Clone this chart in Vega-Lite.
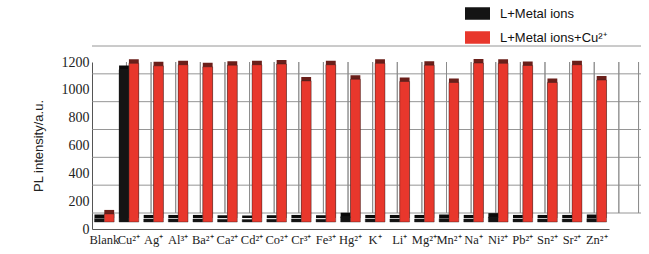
{
  "$schema": "https://vega.github.io/schema/vega-lite/v6.json",
  "autosize": "none",
  "padding": {"left": 92, "top": 62, "right": 40, "bottom": 25},
  "width": 517,
  "height": 167,
  "background": "white",
  "config": {
    "view": {"stroke": null},
    "axis": {"ticks": false, "grid": false, "domainColor": "#555", "labelColor": "#222"},
    "axisX": {"labelAngle": 0, "labelPadding": 4, "labelFont": "Liberation Serif", "labelFontSize": 12.5, "labelOverlap": false, "labelBound": false},
    "axisY": {"labelPadding": 3, "labelFont": "Liberation Serif", "labelFontSize": 14, "titleFont": "Liberation Sans", "titleFontSize": 13, "titleFontWeight": "normal", "titleColor": "#222", "titlePadding": 16}
  },
  "datasets": {
    "grid": [{"g": 0}, {"g": 200}, {"g": 400}, {"g": 600}, {"g": 800}, {"g": 1000}, {"g": 1200}],
    "pl": [
    {"ion": "Blank", "series": "L+Metal ions", "value": 25},
    {"ion": "Blank", "series": "L+Metal ions+Cu²⁺", "value": 58},
    {"ion": "Cu²⁺", "series": "L+Metal ions", "value": 1095},
    {"ion": "Cu²⁺", "series": "L+Metal ions+Cu²⁺", "value": 1140},
    {"ion": "Ag⁺", "series": "L+Metal ions", "value": 22},
    {"ion": "Ag⁺", "series": "L+Metal ions+Cu²⁺", "value": 1122},
    {"ion": "Al³⁺", "series": "L+Metal ions", "value": 22},
    {"ion": "Al³⁺", "series": "L+Metal ions+Cu²⁺", "value": 1130},
    {"ion": "Ba²⁺", "series": "L+Metal ions", "value": 22},
    {"ion": "Ba²⁺", "series": "L+Metal ions+Cu²⁺", "value": 1115},
    {"ion": "Ca²⁺", "series": "L+Metal ions", "value": 20},
    {"ion": "Ca²⁺", "series": "L+Metal ions+Cu²⁺", "value": 1127},
    {"ion": "Cd²⁺", "series": "L+Metal ions", "value": 18},
    {"ion": "Cd²⁺", "series": "L+Metal ions+Cu²⁺", "value": 1130},
    {"ion": "Co²⁺", "series": "L+Metal ions", "value": 20},
    {"ion": "Co²⁺", "series": "L+Metal ions+Cu²⁺", "value": 1135},
    {"ion": "Cr³⁺", "series": "L+Metal ions", "value": 22},
    {"ion": "Cr³⁺", "series": "L+Metal ions+Cu²⁺", "value": 1014},
    {"ion": "Fe³⁺", "series": "L+Metal ions", "value": 20},
    {"ion": "Fe³⁺", "series": "L+Metal ions+Cu²⁺", "value": 1130},
    {"ion": "Hg²⁺", "series": "L+Metal ions", "value": 38},
    {"ion": "Hg²⁺", "series": "L+Metal ions+Cu²⁺", "value": 1026},
    {"ion": "K⁺", "series": "L+Metal ions", "value": 22},
    {"ion": "K⁺", "series": "L+Metal ions+Cu²⁺", "value": 1140},
    {"ion": "Li⁺", "series": "L+Metal ions", "value": 22},
    {"ion": "Li⁺", "series": "L+Metal ions+Cu²⁺", "value": 1010},
    {"ion": "Mg²⁺", "series": "L+Metal ions", "value": 22},
    {"ion": "Mg²⁺", "series": "L+Metal ions+Cu²⁺", "value": 1127},
    {"ion": "Mn²⁺", "series": "L+Metal ions", "value": 25},
    {"ion": "Mn²⁺", "series": "L+Metal ions+Cu²⁺", "value": 1003},
    {"ion": "Na⁺", "series": "L+Metal ions", "value": 22},
    {"ion": "Na⁺", "series": "L+Metal ions+Cu²⁺", "value": 1142},
    {"ion": "Ni²⁺", "series": "L+Metal ions", "value": 35},
    {"ion": "Ni²⁺", "series": "L+Metal ions+Cu²⁺", "value": 1140},
    {"ion": "Pb²⁺", "series": "L+Metal ions", "value": 22},
    {"ion": "Pb²⁺", "series": "L+Metal ions+Cu²⁺", "value": 1125},
    {"ion": "Sn²⁺", "series": "L+Metal ions", "value": 22},
    {"ion": "Sn²⁺", "series": "L+Metal ions+Cu²⁺", "value": 1003},
    {"ion": "Sr²⁺", "series": "L+Metal ions", "value": 22},
    {"ion": "Sr²⁺", "series": "L+Metal ions+Cu²⁺", "value": 1130},
    {"ion": "Zn²⁺", "series": "L+Metal ions", "value": 25},
    {"ion": "Zn²⁺", "series": "L+Metal ions+Cu²⁺", "value": 1020}
  ]},
  "data": {"name": "pl"},
  "layer": [
    {
      "data": {"name": "grid"},
      "mark": {"type": "rule", "color": "#8a8a8a", "strokeWidth": 0.9, "xOffset": 32, "yOffset": -16},
      "encoding": {
        "y": {"field": "g", "type": "quantitative", "axis": {"title": "PL intensity/a.u.", "format": "d", "values": [0, 200, 400, 600, 800, 1000, 1200]}}
      }
    },
    {
      "mark": {"type": "rule", "color": "#8a8a8a", "strokeWidth": 0.9, "xOffset": 32, "yOffset": -16},
      "encoding": {
        "x": {"field": "ion", "type": "nominal", "sort": null, "bandPosition": 0, "axis": {"title": null}},
        "y": {"datum": 0, "type": "quantitative", "axis": {"title": "PL intensity/a.u.", "format": "d", "values": [0, 200, 400, 600, 800, 1000, 1200]}},
        "y2": {"datum": 1200}
      }
    },
    {
      "transform": [{"filter": "datum.ion === 'Zn²⁺'"}],
      "mark": {"type": "rule", "color": "#8a8a8a", "strokeWidth": 0.9, "xOffset": 32, "yOffset": -16},
      "encoding": {
        "x": {"field": "ion", "type": "nominal", "sort": null, "bandPosition": 1, "axis": {"title": null}},
        "y": {"datum": 0, "type": "quantitative", "axis": {"title": "PL intensity/a.u.", "format": "d", "values": [0, 200, 400, 600, 800, 1000, 1200]}},
        "y2": {"datum": 1200}
      }
    },
    {
      "mark": {"type": "bar", "xOffset": 16, "yOffset": -11},
      "encoding": {
        "x": {"field": "ion", "type": "nominal", "sort": null, "axis": {"title": null}},
        "xOffset": {"field": "series", "type": "nominal", "sort": ["L+Metal ions", "L+Metal ions+Cu²⁺"]},
        "y": {"field": "value", "type": "quantitative", "axis": {"title": "PL intensity/a.u.", "format": "d", "values": [0, 200, 400, 600, 800, 1000, 1200]}},
        "color": {"field": "series", "type": "nominal", "legend": null,
          "scale": {"domain": ["L+Metal ions", "L+Metal ions+Cu²⁺"], "range": ["#0a0a0a", "#6b1f1a"]}}
      }
    },
    {
      "mark": {"type": "bar", "xOffset": 12, "yOffset": -7, "stroke": "#222", "strokeWidth": 0.4},
      "encoding": {
        "x": {
          "field": "ion", "type": "nominal", "sort": null,
          "scale": {"type": "band", "paddingInner": 0.2, "paddingOuter": 0.1},
          "axis": {"title": null}
        },
        "xOffset": {"field": "series", "type": "nominal", "sort": ["L+Metal ions", "L+Metal ions+Cu²⁺"]},
        "y": {
          "field": "value", "type": "quantitative",
          "scale": {"domain": [0, 1200], "nice": false, "zero": true},
          "axis": {"title": "PL intensity/a.u.", "format": "d", "values": [0, 200, 400, 600, 800, 1000, 1200]}
        },
        "color": {"field": "series", "type": "nominal",
          "scale": {"domain": ["L+Metal ions", "L+Metal ions+Cu²⁺"], "range": ["#141414", "#e8372c"]},
          "legend": {
            "title": null, "orient": "none", "legendX": 373, "legendY": -61,
            "symbolType": "M-1,-0.5H1V0.5H-1Z", "symbolSize": 625, "symbolStrokeWidth": 0,
            "labelFont": "Liberation Sans", "labelFontSize": 13, "labelColor": "#111",
            "labelOffset": 10, "rowPadding": 4
          }
        }
      }
    }
  ],
  "resolve": {"scale": {"color": "independent"}}
}
